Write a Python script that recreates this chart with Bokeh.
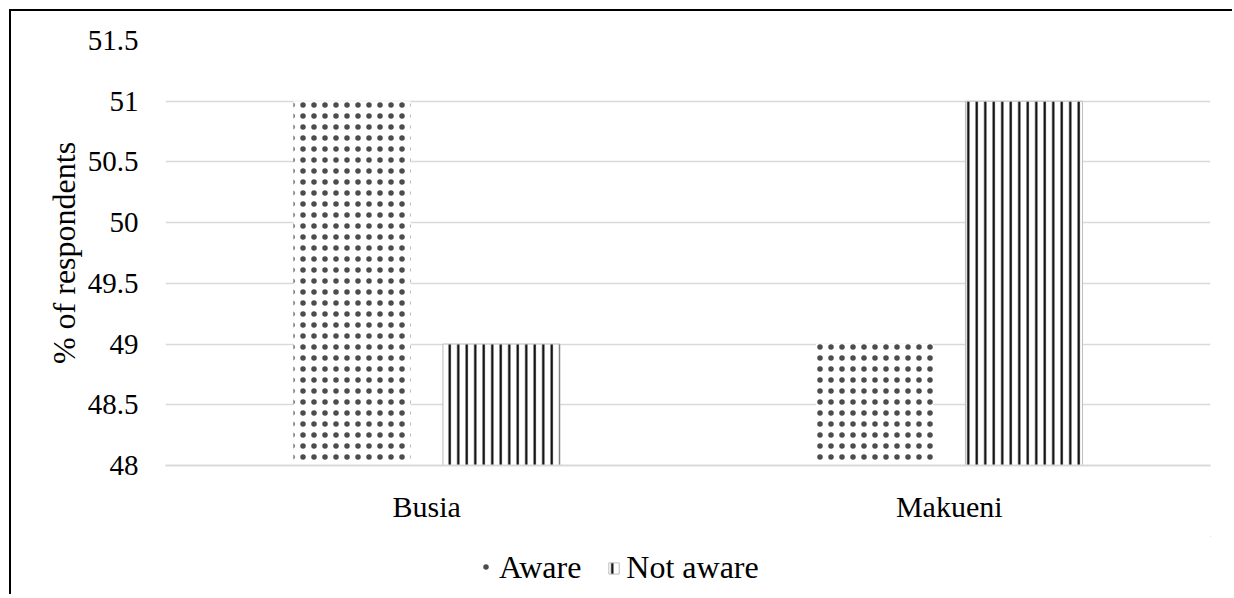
from bokeh.plotting import figure
from bokeh.models import ColumnDataSource, Legend, LegendItem, FactorRange
from bokeh.layouts import column
from bokeh.transform import dodge
from bokeh.embed import file_html
from bokeh.resources import INLINE

counties = ["Busia", "Makueni"]
aware = [51, 49]
not_aware = [49, 51]
y_ticks = [48, 48.5, 49, 49.5, 50, 50.5, 51, 51.5]

src = ColumnDataSource(dict(county=counties, aware=aware, not_aware=not_aware))

FONT = "Liberation Serif"
AWARE_STYLE = dict(fill_color="white", line_color=None, hatch_pattern="dot",
                   hatch_color="black", hatch_scale=11, hatch_weight=0.7, hatch_alpha=0.7)
NOT_STYLE = dict(fill_color="white", line_color="#bfbfbf", line_width=1,
                 hatch_pattern="vertical_line", hatch_color="black",
                 hatch_scale=8.5, hatch_weight=2.2)

p = figure(x_range=FactorRange(*counties), y_range=(48, 51.5),
           width=1223, height=525, output_backend="svg", toolbar_location=None,
           min_border_left=154, min_border_right=24, min_border_top=29, min_border_bottom=71)
p.outline_line_color = None

r1 = p.vbar(x=dodge("county", -0.143, range=p.x_range), top="aware", bottom=48, width=0.224,
            source=src, **AWARE_STYLE)
r2 = p.vbar(x=dodge("county", 0.143, range=p.x_range), top="not_aware", bottom=48, width=0.224,
            source=src, **NOT_STYLE)

p.xaxis.axis_line_color = "#d9d9d9"
p.xaxis.axis_line_width = 2
p.xaxis.major_tick_line_color = None
p.xaxis.minor_tick_line_color = None
p.xaxis.major_label_standoff = 18
p.xaxis.major_label_text_font = FONT
p.xaxis.major_label_text_font_size = "30px"
p.xaxis.major_label_text_color = "black"

p.yaxis.ticker = y_ticks
p.yaxis.axis_line_color = None
p.yaxis.major_tick_line_color = None
p.yaxis.minor_tick_line_color = None
p.yaxis.major_label_standoff = 21
p.yaxis.major_label_text_font = FONT
p.yaxis.major_label_text_font_size = "29px"
p.yaxis.major_label_text_color = "black"
p.yaxis.axis_label = "% of respondents"
p.yaxis.axis_label_text_font = FONT
p.yaxis.axis_label_text_font_size = "32px"
p.yaxis.axis_label_text_font_style = "normal"
p.yaxis.axis_label_text_color = "black"
p.yaxis.axis_label_standoff = 3

p.xgrid.grid_line_color = None
p.ygrid.grid_line_color = "#d9d9d9"
p.ygrid.grid_line_width = 1.5

# legend strip below the chart (proxy glyphs fall outside its visible range)
lp = figure(width=1223, height=60, output_backend="svg", toolbar_location=None,
            x_range=(0, 1), y_range=(0, 1), min_border=0)
lp.axis.visible = False
lp.grid.visible = False
lp.outline_line_color = None
l1 = lp.vbar(x="aware", top="aware", bottom="not_aware", width=0.1, source=src, **AWARE_STYLE)
l2 = lp.vbar(x="not_aware", top="not_aware", bottom="aware", width=0.1, source=src, **NOT_STYLE)
legend = Legend(items=[LegendItem(label="Aware", renderers=[l1]),
                       LegendItem(label="Not aware", renderers=[l2])],
                orientation="horizontal", location=(315, 10),
                label_text_font=FONT, label_text_font_size="32px", label_text_color="black",
                glyph_width=13, glyph_height=14, spacing=26, label_standoff=6,
                border_line_color=None, background_fill_alpha=0, padding=2, margin=0)
lp.add_layout(legend, "center")

layout = column(p, lp, spacing=0)
layout.margin = (11, 0, 0, 11)
layout.styles = {"box-shadow": "-2px -2px 0 0 black"}

open("out.html", "w").write(file_html(layout, INLINE))
